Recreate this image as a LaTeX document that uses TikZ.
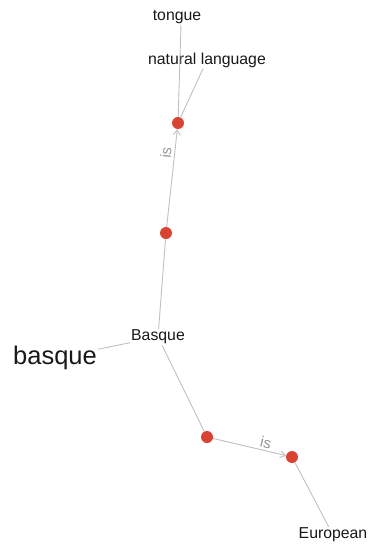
\documentclass[tikz,border=0pt]{standalone}
\usepackage{fontspec}
\setmainfont{Liberation Sans}
\usetikzlibrary{arrows.meta, positioning}
\definecolor{dotred}{RGB}{217,67,50}
\definecolor{linkgray}{RGB}{192,192,192}
\definecolor{labelgray}{RGB}{150,150,150}
\definecolor{wordink}{RGB}{25,25,25}

\begin{document}
\begin{tikzpicture}[
    x=1pt, y=-1pt,
    dot/.style={circle, fill=dotred, inner sep=0pt, minimum size=12pt},
    word/.style={text=wordink, inner sep=1pt, font=\fontsize{15.8}{18}\selectfont},
    bigword/.style={text=wordink, inner sep=1pt, font=\fontsize{25.5}{30}\selectfont},
    link/.style={draw=linkgray, line width=0.9pt},
    isarrow/.style={link, -{Straight Barb[length=5pt, width=7pt]}},
    islabel/.style={text=labelgray, inner sep=1pt, font=\fontsize{15}{17}\selectfont}
]
    \useasboundingbox (0,0) rectangle (369,544);

    % concept dots
    \node[dot] (top) at (178,123) {};
    \node[dot] (mid) at (166,233) {};
    \node[dot] (low) at (207,437) {};
    \node[dot] (eur) at (292,457) {};

    % words
    \node[word] (tongue) at (177,17) {tongue};
    \node[word] (natlang) at (207,60) {natural language};
    \node[word] (Basque) at (158,337) {Basque};
    \node[bigword] (basque) at (55,358) {basque};
    \node[word] (European) at (333,535) {European};

    \draw[link] ([xshift=4pt]tongue.south) -- (top);
    \draw[link] (natlang) -- (top);
    \draw[isarrow] (mid) -- node[islabel, sloped, above=2pt, pos=0.75] {is} (top);
    \draw[link] (Basque) -- (mid);
    \draw[link] (Basque) -- (basque);
    \draw[link] (Basque) -- (low);
    \draw[isarrow] (low) -- node[islabel, sloped, above=1pt, pos=0.7] {is} (eur);
    \draw[link] (eur) -- (European);
\end{tikzpicture}
\end{document}
